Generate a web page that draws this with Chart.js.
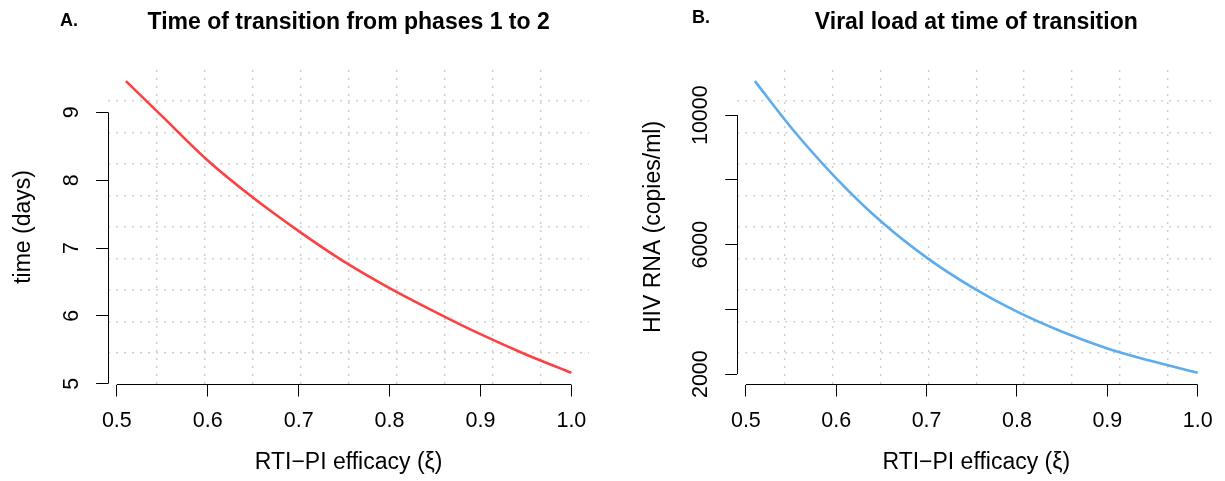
<!DOCTYPE html>
<html><head><meta charset="utf-8">
<script src="https://cdn.jsdelivr.net/npm/chart.js@4.4.1/dist/chart.umd.min.js"></script>
<style>
html,body{margin:0;padding:0;background:#fff;}
#wrap{position:relative;width:1225px;height:481px;background:#fff;}
.panel{position:absolute;top:0;height:481px;}
#p1{left:0;width:612px;} #p2{left:612px;width:613px;}
</style></head><body>
<div id="wrap">
  <div class="panel" id="p1"><canvas id="c1" width="612" height="481"></canvas></div>
  <div class="panel" id="p2"><canvas id="c2" width="613" height="481"></canvas></div>
</div>
<script>
// ---- data ----
const efficacy = [0.51, 0.55, 0.60, 0.65, 0.70, 0.75, 0.80, 0.85, 0.90, 0.95, 1.00];
const transitionTime = [9.46, 8.94, 8.29, 7.74, 7.25, 6.80, 6.41, 6.06, 5.73, 5.43, 5.16];
const viralLoad = [11050, 9620, 8050, 6705, 5600, 4690, 3930, 3310, 2795, 2395, 2040];
const xTicks = [0.5, 0.6, 0.7, 0.8, 0.9, 1.0];
const xTickLabels = ['0.5', '0.6', '0.7', '0.8', '0.9', '1.0'];
const timeTicks = [5, 6, 7, 8, 9];
const timeTickLabels = ['5', '6', '7', '8', '9'];
const vlTicks = [2000, 4000, 6000, 8000, 10000];
const vlTickLabels = ['2000', '', '6000', '', '10000'];

const FONT = "'Liberation Sans', Arial, Helvetica, sans-serif";
const TICK_PX = 21.5, LAB_PX = 23, TITLE_PX = 23, LETTER_PX = 18;

function paddedRange(arr) {
  const mn = Math.min(...arr), mx = Math.max(...arr), d = (mx - mn) * 0.04;
  return [mn - d, mx + d];
}
const xRange = paddedRange(efficacy);

const rAxes = {
  id: 'rAxes',
  afterDraw(chart) {
    const o = chart.options.plugins.rAxes;
    const ctx = chart.ctx, xs = chart.scales.x, ys = chart.scales.y, ca = chart.chartArea;
    ctx.save();
    ctx.strokeStyle = '#000'; ctx.lineWidth = 1;
    const by = Math.round(ca.bottom - 0.5) + 0.5;
    const lx = Math.round(ca.left - 0.5) + 0.5;
    ctx.beginPath();
    ctx.moveTo(xs.getPixelForValue(o.xTicks[0]), by);
    ctx.lineTo(xs.getPixelForValue(o.xTicks[o.xTicks.length - 1]), by);
    ctx.moveTo(lx, ys.getPixelForValue(o.yTicks[0]));
    ctx.lineTo(lx, ys.getPixelForValue(o.yTicks[o.yTicks.length - 1]));
    ctx.stroke();
    // rotated y tick labels
    ctx.fillStyle = '#000';
    ctx.font = TICK_PX + 'px ' + FONT;
    ctx.textAlign = 'center'; ctx.textBaseline = 'middle';
    o.yTicks.forEach((v, i) => {
      const lab = o.yLabels[i];
      if (!lab) return;
      ctx.save();
      ctx.translate(ca.left - 36, ys.getPixelForValue(v));
      ctx.rotate(-Math.PI / 2);
      ctx.fillText(lab, 0, 0);
      ctx.restore();
    });
    // main title and panel letter
    ctx.textBaseline = 'alphabetic';
    ctx.font = 'bold ' + TITLE_PX + 'px ' + FONT;
    ctx.textAlign = 'center';
    ctx.fillText(o.title, (ca.left + ca.right) / 2, 29);
    ctx.font = 'bold ' + LETTER_PX + 'px ' + FONT;
    ctx.textAlign = 'left';
    ctx.fillText(o.letter, o.letterX, o.letterY);
    ctx.restore();
  }
};

function makePanel(id, cfg) {
  const yRange = paddedRange(cfg.values);
  const gridCommon = {
    display: true,
    ticks: { display: false },
    grid: { drawOnChartArea: true, drawTicks: false, color: '#CFCFCF', lineWidth: 1.4, borderDash: [2, 6] },
    border: { display: false, dash: [2, 6] }
  };
  const interior = (s) => {
    const t = [];
    for (let i = 1; i < 10; i++) t.push({ value: s.min + (s.max - s.min) * i / 10 });
    s.ticks = t;
  };
  return new Chart(document.getElementById(id), {
    type: 'line',
    data: {
      datasets: [{
        data: efficacy.map((x, i) => ({ x: x, y: cfg.values[i] })),
        borderColor: cfg.color,
        borderWidth: 2.6,
        pointRadius: 0,
        fill: false,
        cubicInterpolationMode: 'monotone',
        xAxisID: 'x', yAxisID: 'y'
      }]
    },
    options: {
      responsive: false,
      animation: false,
      events: [],
      layout: { padding: { left: 0, right: cfg.padRight, top: 69.5, bottom: 0 } },
      plugins: {
        legend: { display: false },
        tooltip: { enabled: false },
        rAxes: { xTicks: xTicks, yTicks: cfg.yTicks, yLabels: cfg.yLabels, title: cfg.title, letter: cfg.letter, letterX: cfg.letterX, letterY: cfg.letterY }
      },
      scales: {
        x: {
          type: 'linear', position: 'bottom', min: xRange[0], max: xRange[1],
          afterBuildTicks: (s) => { s.ticks = xTicks.map(v => ({ value: v })); },
          ticks: {
            autoSkip: false, maxRotation: 0, minRotation: 0, padding: 12, color: '#000',
            font: { family: FONT, size: TICK_PX },
            callback: (v, i) => xTickLabels[i]
          },
          grid: { drawOnChartArea: false, drawTicks: true, tickLength: 12, tickColor: '#000', tickWidth: 1 },
          border: { display: false },
          title: { display: true, text: 'RTI\u2212PI efficacy (\u03be)', color: '#000', font: { family: FONT, size: LAB_PX }, padding: { top: 0, bottom: 4.2 } },
          afterFit: (s) => { s.height = 96.5; }
        },
        y: {
          type: 'linear', position: 'left', min: yRange[0], max: yRange[1],
          afterBuildTicks: (s) => { s.ticks = cfg.yTicks.map(v => ({ value: v })); },
          ticks: { display: false },
          grid: { drawOnChartArea: false, drawTicks: true, tickLength: 12, tickColor: '#000', tickWidth: 1 },
          border: { display: false },
          title: { display: true, text: cfg.yTitle, color: '#000', font: { family: FONT, size: LAB_PX }, padding: { top: cfg.yTitlePad, bottom: 0 } },
          afterFit: (s) => { s.width = cfg.yAxisWidth; }
        },
        xg: Object.assign({ type: 'linear', position: 'top', min: xRange[0], max: xRange[1], afterBuildTicks: interior, afterFit: (s) => { s.height = 0; } }, JSON.parse(JSON.stringify(gridCommon))),
        yg: Object.assign({ type: 'linear', position: 'right', min: yRange[0], max: yRange[1], afterBuildTicks: interior, afterFit: (s) => { s.width = 0; } }, JSON.parse(JSON.stringify(gridCommon)))
      }
    },
    plugins: [rAxes]
  });
}

makePanel('c1', {
  values: transitionTime, color: '#FF4040',
  yTicks: timeTicks, yLabels: timeTickLabels, yTitle: 'time (days)',
  title: 'Time of transition from phases 1 to 2', letter: 'A.', letterX: 60, letterY: 26,
  yAxisWidth: 108.1, padRight: 22.8, yTitlePad: 10.2
});
makePanel('c2', {
  values: viralLoad, color: '#5CACEE',
  yTicks: vlTicks, yLabels: vlTickLabels, yTitle: 'HIV RNA (copies/ml)',
  title: 'Viral load at time of transition', letter: 'B.', letterX: 80, letterY: 22.5,
  yAxisWidth: 125.2, padRight: 6, yTitlePad: 28.2
});
</script>
</body></html>
